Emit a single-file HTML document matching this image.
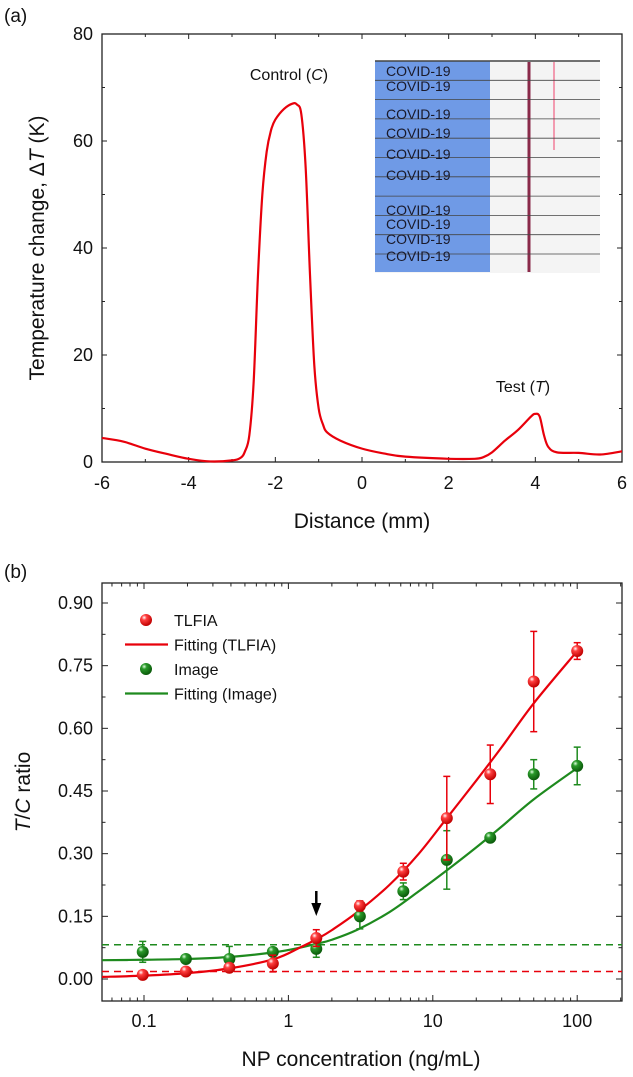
<!DOCTYPE html>
<html><head><meta charset="utf-8"><style>
html,body{margin:0;padding:0;background:#fff}
svg{display:block;font-family:"Liberation Sans",Arial,sans-serif}
</style></head><body>
<svg id="fig" width="633" height="1077" viewBox="0 0 633 1077" xmlns="http://www.w3.org/2000/svg">
<defs>
<radialGradient id="gr" cx="0.35" cy="0.3" r="0.7"><stop offset="0" stop-color="#fff"/><stop offset="0.3" stop-color="#ff4040"/><stop offset="1" stop-color="#c00000"/></radialGradient>
<radialGradient id="gg" cx="0.35" cy="0.3" r="0.7"><stop offset="0" stop-color="#e0ffe0"/><stop offset="0.3" stop-color="#2a9a2a"/><stop offset="1" stop-color="#0a5a0a"/></radialGradient>
</defs>
<g id="pa"></g>
<g id="pb"></g>
</svg>
<script>
// Panel (a) data
const aX=[-6,-5.5,-5,-4.5,-4,-3.5,-3,-2.8,-2.7,-2.6,-2.5,-2.4,-2.3,-2.2,-2.1,-2.0,-1.8,-1.6,-1.5,-1.4,-1.3,-1.2,-1.1,-1.0,-0.9,-0.8,-0.5,0,0.5,1,2,2.6,2.8,3,3.3,3.6,3.9,4,4.1,4.2,4.3,4.5,5,5.5,6];
const aY=[4.5,3.8,2.5,1.5,0.6,0.1,0.3,0.8,2,5,15,35,50,58,62,64,66,67,66.8,65,55,35,18,10,7,5.5,4,2.5,1.6,1,0.6,0.6,0.9,1.8,4,6,8.5,9,8.5,5,2.8,1.8,1.7,1.4,2];
const aXTicks=[-6,-4,-2,0,2,4,6];
const aYTicks=[0,20,40,60,80];
// Panel (b) data
const conc=[0.098,0.195,0.39,0.78,1.56,3.125,6.25,12.5,25,50,100];
const tlfia=[0.01,0.018,0.027,0.037,0.098,0.175,0.257,0.385,0.49,0.712,0.785];
const tlfiaErr=[0.005,0.005,0.008,0.02,0.02,0.012,0.02,0.1,0.07,0.12,0.02];
const img=[0.065,0.048,0.048,0.065,0.072,0.15,0.21,0.285,0.338,0.49,0.51];
const imgErr=[0.025,0.005,0.03,0.005,0.02,0.03,0.02,0.07,0.005,0.035,0.045];
const fitX=[0.05,0.1,0.2,0.4,0.8,1.2,1.6,2,3,5,8,12.5,20,30,50,100];
const fitRed=[0.005,0.008,0.014,0.026,0.048,0.075,0.097,0.117,0.16,0.225,0.3,0.385,0.475,0.555,0.66,0.785];
const fitGreen=[0.045,0.046,0.048,0.053,0.064,0.075,0.085,0.094,0.118,0.16,0.21,0.26,0.315,0.365,0.43,0.505];
const lodRed=0.018, lodGreen=0.082;
const bXTicks=[0.1,1,10,100];
const bYTicks=[0,0.15,0.30,0.45,0.60,0.75,0.90];

const NS="http://www.w3.org/2000/svg";
function mk(p,t,a,txt){const e=document.createElementNS(NS,t);for(const k in a)e.setAttribute(k,a[k]);if(txt!==undefined)e.textContent=txt;p.appendChild(e);return e;}
function smooth(pts){let d="M"+pts[0][0]+","+pts[0][1];for(let i=0;i<pts.length-1;i++){const p0=pts[Math.max(0,i-1)],p1=pts[i],p2=pts[i+1],p3=pts[Math.min(pts.length-1,i+2)];const c1=[p1[0]+(p2[0]-p0[0])/6,p1[1]+(p2[1]-p0[1])/6],c2=[p2[0]-(p3[0]-p1[0])/6,p2[1]-(p3[1]-p1[1])/6];d+=` C${c1[0].toFixed(2)},${c1[1].toFixed(2)} ${c2[0].toFixed(2)},${c2[1].toFixed(2)} ${p2[0].toFixed(2)},${p2[1].toFixed(2)}`;}return d;}

// ---- Panel A
const A=document.getElementById('pa');
const L=102,R=622,aT=34,aB=462;
const ax=v=>L+(v+6)/12*(R-L), ay=v=>aB-v/80*(aB-aT);
let t=mk(A,'text',{x:4,y:22,'font-size':19,fill:'#111'},'(a)');

const ins=mk(A,'g',{});

mk(ins,'rect',{x:375,y:61,width:225,height:212,fill:'#f4f4f4'});
mk(ins,'rect',{x:375,y:61,width:115,height:211,fill:'#6f9ae6'});
mk(ins,'line',{x1:529,y1:62,x2:529,y2:272,stroke:'#8a2a4a','stroke-width':3});
mk(ins,'line',{x1:554,y1:62,x2:554,y2:150,stroke:'#f29bb0','stroke-width':2});
for(let i=0;i<11;i++){const y=61+i*19.3;mk(ins,'line',{x1:375,y1:y,x2:600,y2:y,stroke:'#444','stroke-width':i==0?1.6:0.8});}
const lab=[70,85,113,132,153,174,209,223,238,255];
lab.forEach((y,i)=>{mk(ins,'text',{x:386,y:y+6,'font-size':14,fill:'#1a1a2a'},'COVID-19');});
const fr=mk(A,'rect',{x:L,y:aT,width:R-L,height:aB-aT,fill:'none',stroke:'#222','stroke-width':1.3});

for(let v=-6;v<=6;v+=1){const x=ax(v),m=(v%2===0);mk(A,'line',{x1:x,y1:aB,x2:x,y2:aB-(m?5:3),stroke:'#222'});mk(A,'line',{x1:x,y1:aT,x2:x,y2:aT+(m?5:3),stroke:'#222'});}
for(let v=0;v<=80;v+=10){const y=ay(v),m=(v%20===0);mk(A,'line',{x1:L,y1:y,x2:L+(m?5:3),y2:y,stroke:'#222'});mk(A,'line',{x1:R,y1:y,x2:R-(m?5:3),y2:y,stroke:'#222'});}
aXTicks.forEach(v=>{const e=mk(A,'text',{x:ax(v),y:489,'font-size':18,'text-anchor':'middle',fill:'#111'},String(v));});
aYTicks.forEach(v=>{const e=mk(A,'text',{x:93,y:ay(v)+6,'font-size':18,'text-anchor':'end',fill:'#111'},String(v));});
t=mk(A,'text',{x:362,y:528,'font-size':21,'text-anchor':'middle',fill:'#111'},'Distance (mm)');

t=mk(A,'text',{transform:'translate(44,248) rotate(-90)','font-size':21,'text-anchor':'middle',fill:'#111'});
t.innerHTML='Temperature change, Δ<tspan font-style="italic">T</tspan> (K)';

t=mk(A,'text',{x:289,y:80,'font-size':16,'text-anchor':'middle',fill:'#111'});t.innerHTML='Control (<tspan font-style="italic">C</tspan>)';

t=mk(A,'text',{x:523,y:392,'font-size':16,'text-anchor':'middle',fill:'#111'});t.innerHTML='Test (<tspan font-style="italic">T</tspan>)';

let pts=aX.map((x,i)=>[ax(x),ay(aY[i])]);
let p=mk(A,'path',{d:smooth(pts),fill:'none',stroke:'#e8000b','stroke-width':2.2});


// ---- Panel B
const B=document.getElementById('pb');
const bT=583,bB=1001,x01=144,dec=144.4,y0=979,yU=(979-603)/0.9;
const bx=v=>x01+(Math.log10(v)+1)*dec, by=v=>y0-v*yU;
t=mk(B,'text',{x:4,y:578,'font-size':19,fill:'#111'},'(b)');

const fr2=mk(B,'rect',{x:L,y:bT,width:R-L,height:bB-bT,fill:'none',stroke:'#222','stroke-width':1.3});

for(let d=-2;d<=2;d++)for(let k=1;k<10;k++){const v=k*Math.pow(10,d),x=bx(v);if(x<L+0.5||x>R-0.5)continue;const m=k===1;mk(B,'line',{x1:x,y1:bB,x2:x,y2:bB-(m?6:3.5),stroke:'#222'});mk(B,'line',{x1:x,y1:bT,x2:x,y2:bT+(m?6:3.5),stroke:'#222'});}
for(let v=-0.075;v<=0.95;v+=0.075){const y=by(v);if(y>bB||y<bT)continue;const m=Math.round(v/0.075)%2===0;mk(B,'line',{x1:L,y1:y,x2:L+(m?6:3.5),y2:y,stroke:'#222'});mk(B,'line',{x1:R,y1:y,x2:R-(m?6:3.5),y2:y,stroke:'#222'});}
bXTicks.forEach(v=>{const e=mk(B,'text',{x:bx(v),y:1027,'font-size':18,'text-anchor':'middle',fill:'#111'},String(v));});
bYTicks.forEach(v=>{const e=mk(B,'text',{x:93,y:by(v)+6,'font-size':18,'text-anchor':'end',fill:'#111'},v.toFixed(2));});
t=mk(B,'text',{x:361,y:1066,'font-size':21,'text-anchor':'middle',fill:'#111'},'NP concentration (ng/mL)');

t=mk(B,'text',{transform:'translate(30,792) rotate(-90)','font-size':21,'text-anchor':'middle',fill:'#111'});
t.innerHTML='<tspan font-style="italic">T</tspan>/<tspan font-style="italic">C</tspan> ratio';

let dl=mk(B,'line',{x1:L,x2:R,y1:by(lodGreen),y2:by(lodGreen),stroke:'#1e8a1e','stroke-width':1.5,'stroke-dasharray':'7,5'});

dl=mk(B,'line',{x1:L,x2:R,y1:by(lodRed),y2:by(lodRed),stroke:'#e8000b','stroke-width':1.5,'stroke-dasharray':'7,5'});

function fitPath(ys,col,name){const pp=fitX.map((x,i)=>[Math.max(L,bx(x)),by(ys[i])]);const e=mk(B,'path',{d:smooth(pp),fill:'none',stroke:col,'stroke-width':2.2});}
fitPath(fitGreen,'#1e8a1e','fit-curve-image');
fitPath(fitRed,'#e8000b','fit-curve-tlfia');
function series(vals,errs,col,grad,name){vals.forEach((v,i)=>{const x=bx(conc[i]),g=mk(B,'g',{});
const y1=by(v+errs[i]),y2=by(v-errs[i]);mk(g,'line',{x1:x,x2:x,y1:y1,y2:y2,stroke:col,'stroke-width':1.5});mk(g,'line',{x1:x-3.5,x2:x+3.5,y1:y1,y2:y1,stroke:col,'stroke-width':1.5});mk(g,'line',{x1:x-3.5,x2:x+3.5,y1:y2,y2:y2,stroke:col,'stroke-width':1.5});
mk(g,'circle',{cx:x,cy:by(v),r:6,fill:`url(#${grad})`});});}
series(img,imgErr,'#1e8a1e','gg','point-image');
series(tlfia,tlfiaErr,'#e8000b','gr','point-tlfia');
const arw=mk(B,'g',{});
const axp=bx(1.56);mk(arw,'line',{x1:axp,x2:axp,y1:891,y2:906,stroke:'#000','stroke-width':2.5});mk(arw,'path',{d:`M${axp-5},903 L${axp+5},903 L${axp},916 Z`,fill:'#000'});
const lg=mk(B,'g',{});
const rows=[['TLFIA','dot','gr'],['Fitting (TLFIA)','line','#e8000b'],['Image','dot','gg'],['Fitting (Image)','line','#1e8a1e']];
rows.forEach((r,i)=>{const y=620+i*24.5,g=mk(lg,'g',{});
if(r[1]==='dot')mk(g,'circle',{cx:146,cy:y,r:6,fill:`url(#${r[2]})`});else mk(g,'line',{x1:125,x2:168,y1:y,y2:y,stroke:r[2],'stroke-width':2.2});
mk(g,'text',{x:174,y:y+6,'font-size':16,fill:'#111'},r[0]);});
</script>
</body></html>
